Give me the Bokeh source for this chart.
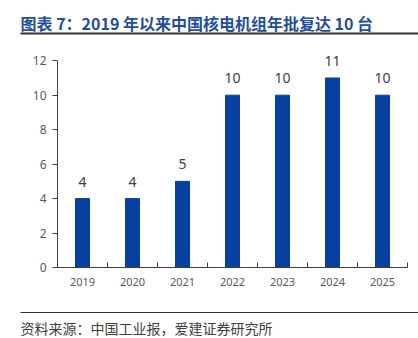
from bokeh.plotting import figure
from bokeh.models import FixedTicker, Range1d, ColumnDataSource
from bokeh.layouts import column
from bokeh.core.properties import value
from bokeh.embed import file_html
from bokeh.resources import INLINE

years = ["2019", "2020", "2021", "2022", "2023", "2024", "2025"]
approvals = [4, 4, 5, 10, 10, 11, 10]
y_ticks = [0, 2, 4, 6, 8, 10, 12]
title_text = "图表 7：2019 年以来中国核电机组年批复达 10 台"
source_text = "资料来源：中国工业报，爱建证券研究所"

W = 418
TOP_H, MAIN_H, BOT_H = 40, 260, 38


def blank(h):
    f = figure(width=W, height=h, output_backend="svg", toolbar_location=None,
               x_range=Range1d(0, W), y_range=Range1d(h, 0),
               min_border=0, min_border_left=0, min_border_right=0,
               min_border_top=0, min_border_bottom=0)
    f.axis.visible = False
    f.grid.visible = False
    f.outline_line_color = None
    f.background_fill_color = "white"
    f.border_fill_color = "white"
    f.frame_align = False
    return f


# header
top = blank(TOP_H)
top.text(x=[20], y=[22], text=[title_text], text_font=value("Noto Sans CJK SC"),
         text_font_style="bold", text_font_size="16px", text_color="#1F4E9E",
         text_baseline="middle", text_align="left")
top.segment(x0=[20], y0=[33], x1=[W], y1=[33], line_color="#333333", line_width=2)

# main chart
xs = [i + 0.5 for i in range(len(years))]
src = ColumnDataSource(dict(x=xs, top=approvals, label=[str(v) for v in approvals]))

p = figure(width=W, height=MAIN_H, output_backend="svg", toolbar_location=None,
           x_range=Range1d(0, len(years)), y_range=Range1d(0, 13),
           min_border_left=57, min_border_right=11, min_border_top=3, min_border_bottom=33)
p.frame_align = False
p.outline_line_color = None
p.grid.grid_line_color = None
p.background_fill_color = "white"
p.border_fill_color = "white"

p.vbar(x="x", top="top", width=0.28, source=src, fill_color="#0840A0", line_color="#0840A0")
p.text(x="x", y="top", text="label", source=src, text_align="center", text_baseline="bottom",
       y_offset=-12, text_font_size="14px", text_color="#404040", text_font=value("Noto Sans"))

xa = p.xaxis[0]
xa.ticker = FixedTicker(ticks=xs, minor_ticks=list(range(len(years) + 1)))
xa.major_label_overrides = {x: y for x, y in zip(xs, years)}
xa.major_tick_in = 0
xa.major_tick_out = 0
xa.minor_tick_in = 5
xa.minor_tick_out = 0
xa.minor_tick_line_color = "#404040"
xa.axis_line_color = "#404040"
xa.major_label_text_font_size = "11px"
xa.major_label_text_color = "#595959"
xa.major_label_text_font = "Noto Sans"
xa.major_label_standoff = 10

ya = p.yaxis[0]
ya.ticker = FixedTicker(ticks=y_ticks)
ya.bounds = (0, 12)
ya.minor_tick_line_color = None
ya.major_tick_in = 0
ya.major_tick_out = 5
ya.axis_line_color = "#404040"
ya.major_tick_line_color = "#404040"
ya.major_label_text_font_size = "12px"
ya.major_label_text_color = "#595959"
ya.major_label_text_font = "Noto Sans"
ya.major_label_standoff = 6

# footer
bot = blank(BOT_H)
bot.segment(x0=[20], y0=[12], x1=[W], y1=[12], line_color="#333333", line_width=1)
bot.text(x=[20], y=[27], text=[source_text], text_font=value("Noto Sans CJK SC"),
         text_font_size="14px", text_color="#404040", text_baseline="middle", text_align="left")

layout = column(top, p, bot, spacing=0)
open("out.html", "w").write(file_html(layout, INLINE))
